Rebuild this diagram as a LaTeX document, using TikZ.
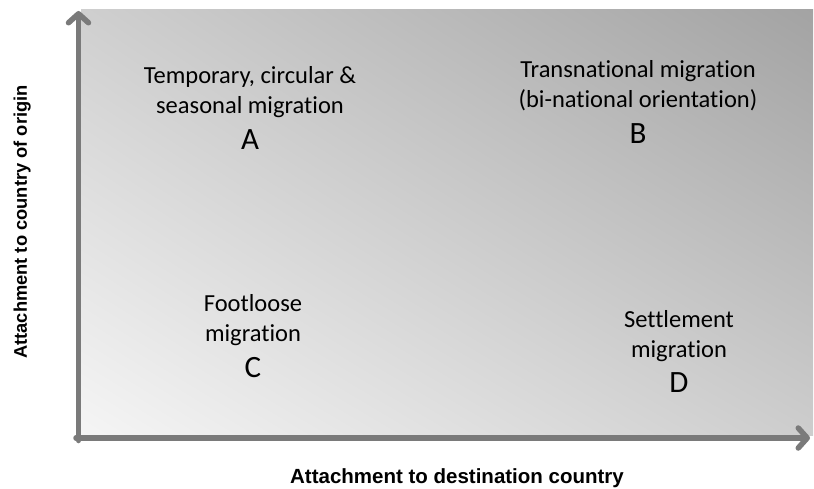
\documentclass[tikz,border=0pt]{standalone}
\usepackage{fontspec}
\setmainfont{Carlito}[Ligatures=CommonOff]
\newfontfamily\axisfont{Liberation Sans}[BoldFont={Liberation Sans Bold}]
\usetikzlibrary{arrows.meta,shadings}
\definecolor{axisgray}{HTML}{7A7A7A}
\definecolor{ulc}{HTML}{CFCFCF}
\definecolor{urc}{HTML}{A3A3A3}
\definecolor{llc}{HTML}{F5F5F5}
\definecolor{lrc}{HTML}{CDCDCD}
\tikzset{
  axisline/.style={draw=axisgray, line width=5.5pt, line cap=round,
    -{Straight Barb[length=9pt,width=20pt,line cap=round,line join=round]}},
  qtext/.style={anchor=base, inner sep=0pt, font=\fontsize{24.5}{30}\selectfont, text=black},
  qletter/.style={anchor=base, inner sep=0pt, font=\fontsize{31}{36}\selectfont, text=black},
  axlabel/.style={anchor=base, inner sep=0pt, text=black}
}
\begin{document}
\begin{tikzpicture}[x=1pt,y=-1pt]
\useasboundingbox (0,0) rectangle (814,488);
\shade[upper left=ulc, upper right=urc, lower left=llc, lower right=lrc] (81,9) rectangle (813,435);
\coordinate (origin) at (78.5,438);
\coordinate (ytip) at (78.5,11);
\coordinate (xtip) at (810,438);
\coordinate (ystart) at (78.5,440.5);
\coordinate (xstart) at (76,438);
\draw[axisline] (ystart) -- (ytip);
\draw[axisline] (xstart) -- (xtip);
% quadrant A
\node[qtext] (a1) at (250,83) {Temporary, circular \&};
\node[qtext] (a2) at (250,113) {seasonal migration};
\node[qletter] (aL) at (250,149) {A};
% quadrant B
\node[qtext] (b1) at (638,77) {Transnational migration};
\node[qtext] (b2) at (638,107) {(bi-national orientation)};
\node[qletter] (bL) at (638,143) {B};
% quadrant C
\node[qtext] (c1) at (253,311) {Footloose};
\node[qtext] (c2) at (253,341) {migration};
\node[qletter] (cL) at (253,377) {C};
% quadrant D
\node[qtext] (d1) at (679,327) {Settlement};
\node[qtext] (d2) at (679,357) {migration};
\node[qletter] (dL) at (679,392) {D};
% axis labels
\node[axlabel, font=\axisfont\bfseries\fontsize{20.5}{24}\selectfont] (xlabel) at (457,483) {Attachment to destination country};
\node[axlabel, rotate=90, font=\axisfont\bfseries\fontsize{18.3}{22}\selectfont] (ylabel) at (27,222) {Attachment to country of origin};
\end{tikzpicture}
\end{document}
